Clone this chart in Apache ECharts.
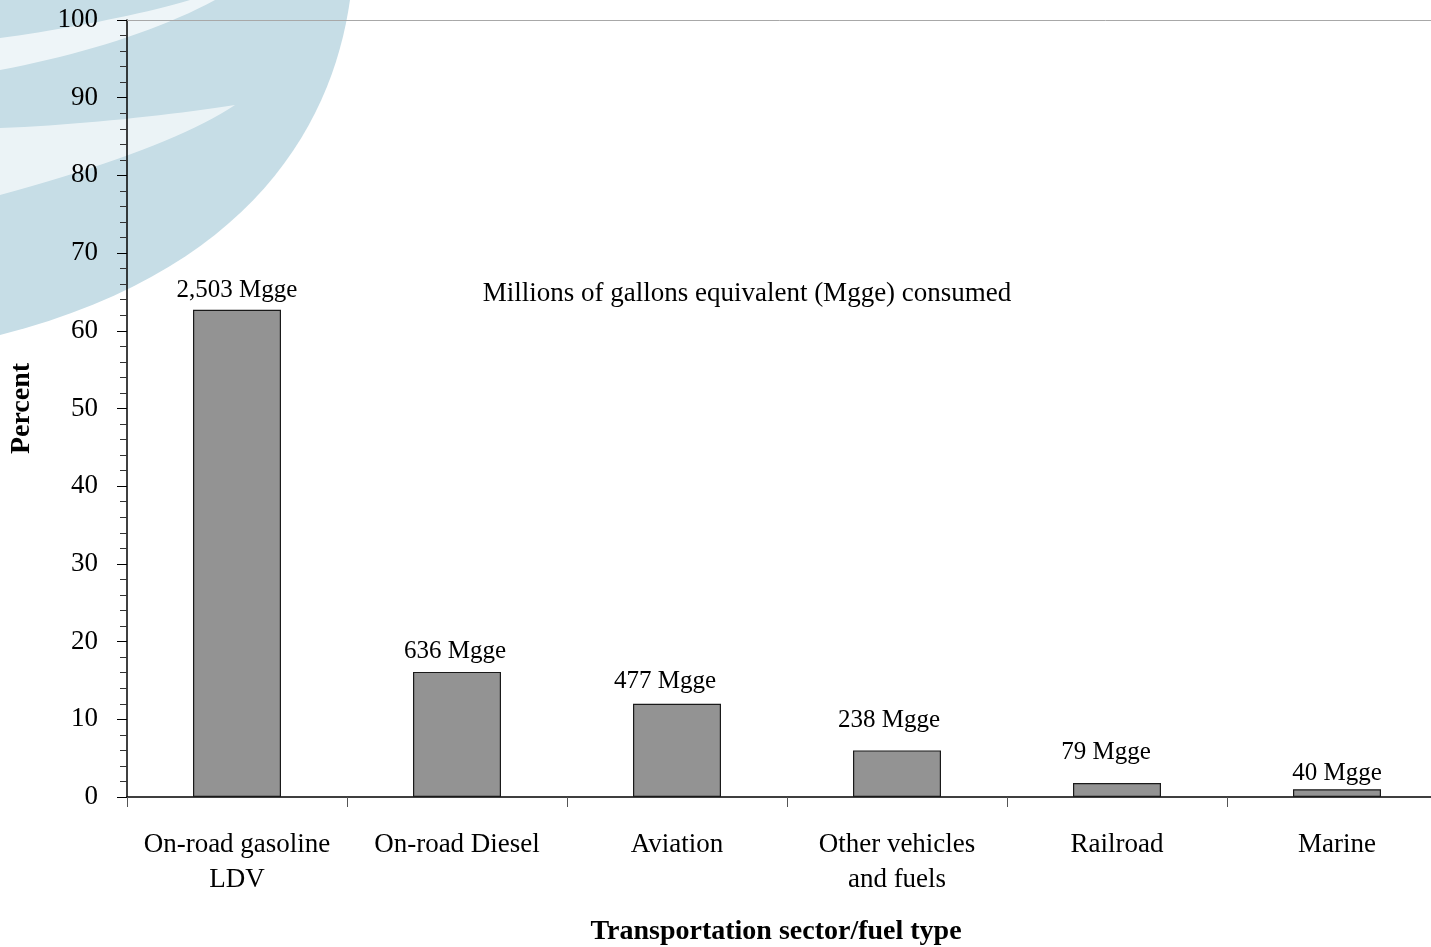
<!DOCTYPE html>
<html><head><meta charset="utf-8">
<script src="https://cdn.jsdelivr.net/npm/echarts@6/dist/echarts.min.js"></script>
<style>html,body{margin:0;padding:0;background:#fff;}#c{width:1431px;height:947px;}</style>
</head><body><div id="c"></div>
<script>
const categories = ['On-road gasoline\nLDV', 'On-road Diesel', 'Aviation', 'Other vehicles\nand fuels', 'Railroad', 'Marine'];
const percentValues = [62.7, 16.1, 12.0, 6.0, 1.8, 1.0];
const mggeLabels = ['2,503 Mgge', '636 Mgge', '477 Mgge', '238 Mgge', '79 Mgge', '40 Mgge'];
const yTicks = [0, 10, 20, 30, 40, 50, 60, 70, 80, 90, 100];

const labelGap = [7, 8, 10, 17, 18, 3];
const labelShift = [0, -2, -12, -8, -11, 0];
const serif = '"Liberation Serif", "Times New Roman", serif';

// decorative watermark helper: sample cubic bezier segments into polygon points
function bez(p0, p1, p2, p3, n) {
  const out = [];
  for (let k = 0; k <= n; k++) {
    const t = k / n, u = 1 - t;
    out.push([
      u*u*u*p0[0] + 3*u*u*t*p1[0] + 3*u*t*t*p2[0] + t*t*t*p3[0],
      u*u*u*p0[1] + 3*u*u*t*p1[1] + 3*u*t*t*p2[1] + t*t*t*p3[1]
    ]);
  }
  return out;
}
const blueShape = [[0, 0]].concat(bez([350, 0], [333, 120], [255, 270], [0, 335], 30));
const streak1 = bez([0, 38], [60, 30], [140, 15], [190, 0], 20).concat(bez([215, 0], [160, 30], [80, 55], [0, 70], 20));
const streak2 = bez([0, 128], [80, 125], [170, 115], [235, 105], 20).concat(bez([235, 105], [190, 135], [110, 165], [0, 195], 20));

const chart = echarts.init(document.getElementById('c'), null, {renderer: 'canvas'});
const option = {
  backgroundColor: '#ffffff',
  animation: false,
  textStyle: {fontFamily: serif},
  graphic: [
    {type: 'polygon', z: -10, silent: true, shape: {points: blueShape}, style: {fill: '#c6dde6'}},
    {type: 'polygon', z: -9, silent: true, shape: {points: streak1}, style: {fill: 'rgba(255,255,255,0.7)'}},
    {type: 'polygon', z: -9, silent: true, shape: {points: streak2}, style: {fill: 'rgba(255,255,255,0.65)'}},
    {type: 'text', z: 10, silent: true, x: 747, y: 294,
     style: {text: 'Millions of gallons equivalent (Mgge) consumed', font: '27px ' + serif, fill: '#000', align: 'center', verticalAlign: 'middle'}},
    {type: 'text', z: 10, silent: true, x: 776, y: 932,
     style: {text: 'Transportation sector/fuel type', font: 'bold 28px ' + serif, fill: '#000', align: 'center', verticalAlign: 'middle'}}
  ],
  grid: {left: 127, right: -16, top: 20, bottom: 150, outerBoundsMode: 'none', containLabel: false},
  xAxis: [{
    type: 'category', data: categories, position: 'bottom',
    axisLine: {show: true, lineStyle: {color: '#000', width: 1.5}},
    axisTick: {show: true, interval: 0, alignWithLabel: false, length: 10, lineStyle: {color: '#555', width: 1}},
    axisLabel: {interval: 0, margin: 30, fontSize: 27, lineHeight: 35, color: '#000', fontFamily: serif},
    splitLine: {show: false}
  }, {
    type: 'category', data: categories, position: 'top',
    axisLine: {show: true, lineStyle: {color: '#a8a8a8', width: 1}},
    axisTick: {show: false}, axisLabel: {show: false}, splitLine: {show: false}
  }],
  yAxis: {
    type: 'value', min: yTicks[0], max: yTicks[yTicks.length - 1], interval: 10,
    name: 'Percent', nameLocation: 'middle', nameRotate: 90, nameGap: 91,
    nameTextStyle: {fontSize: 28, fontWeight: 'bold', color: '#000', fontFamily: serif},
    axisLine: {show: true, lineStyle: {color: '#000', width: 1.5}},
    axisTick: {show: true, length: 10, lineStyle: {color: '#000', width: 1}},
    minorTick: {show: true, splitNumber: 5, length: 7, lineStyle: {color: '#333', width: 1}},
    axisLabel: {margin: 29, fontSize: 27, color: '#000', fontFamily: serif},
    splitLine: {show: false}
  },
  series: [{
    type: 'bar', xAxisIndex: 0, barWidth: 88,
    itemStyle: {color: '#939393', borderColor: '#1a1a1a', borderWidth: 1.2},
    data: percentValues.map((v, i) => ({
      value: v,
      label: {show: true, position: 'top', distance: labelGap[i], offset: [labelShift[i], 0],
        formatter: mggeLabels[i], fontSize: 25, color: '#000', fontFamily: serif}
    }))
  }]
};
chart.setOption(option);
</script></body></html>
